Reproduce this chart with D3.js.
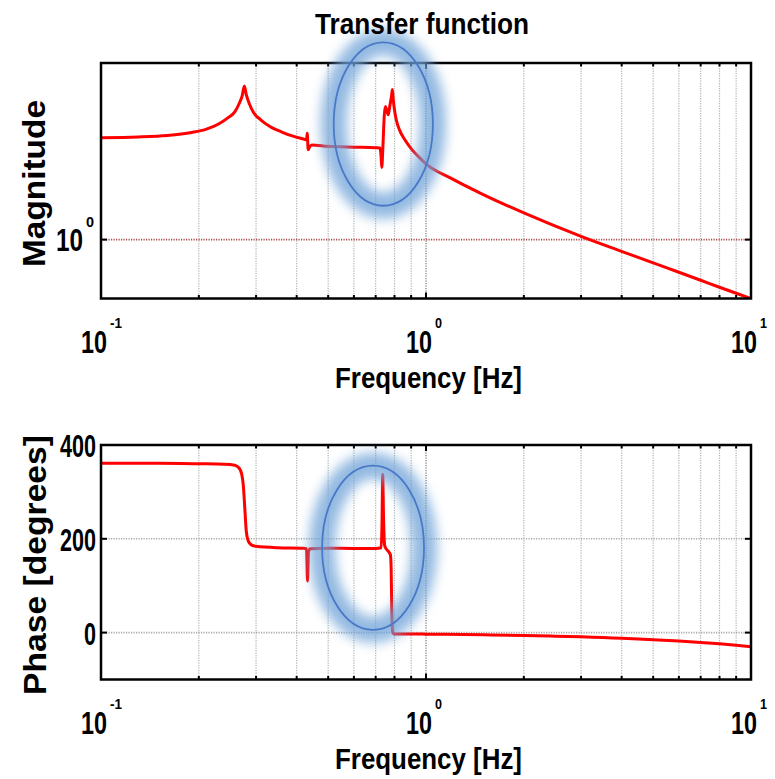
<!DOCTYPE html>
<html>
<head>
<meta charset="utf-8">
<script src="https://cdn.jsdelivr.net/npm/d3@7"></script>
<style>
  body { margin: 0; background: #fff; }
  text { font-family: "Liberation Sans", Arial, Helvetica, sans-serif; font-weight: bold; fill: #000; }
</style>
</head>
<body>
<svg id="chart" width="775" height="779"></svg>
<script>
// magnitude response (linear units)
const freqMag = [0.1, 0.13, 0.16, 0.19, 0.21, 0.23, 0.245, 0.258, 0.266, 0.272, 0.276, 0.28, 0.286, 0.295,
  0.31, 0.33, 0.36, 0.39, 0.42, 0.429, 0.431, 0.434, 0.437, 0.445, 0.5, 0.6, 0.7, 0.722, 0.727, 0.731,
  0.737, 0.744, 0.75, 0.757, 0.765, 0.775, 0.783, 0.788, 0.793, 0.8, 0.81, 0.83, 0.86, 0.9, 0.95, 1.0,
  1.2, 1.5, 2, 3, 4, 5, 6, 7, 8, 9, 10];
const magnitude = [3.32, 3.35, 3.41, 3.53, 3.66, 3.9, 4.18, 4.5, 4.95, 5.45, 6.1, 5.5, 4.95, 4.45,
  4.1, 3.8, 3.55, 3.38, 3.27, 3.24, 3.5, 2.88, 2.95, 3.05, 3.0, 2.97, 2.95, 2.94, 2.7, 2.34,
  3.0, 4.3, 4.8, 4.6, 4.35, 4.9, 5.4, 5.85, 5.2, 4.6, 4.1, 3.62, 3.25, 2.92, 2.65, 2.44,
  2.05, 1.70, 1.37, 1.04, 0.871, 0.76, 0.681, 0.62, 0.571, 0.532, 0.5];

// phase response in degrees
const freqPhase = [0.1, 0.15, 0.2, 0.24, 0.258, 0.266, 0.271, 0.274, 0.277, 0.28, 0.284, 0.29, 0.3,
  0.35, 0.42, 0.429, 0.432, 0.435, 0.44, 0.5, 0.6, 0.7, 0.728, 0.732, 0.736, 0.74, 0.746, 0.755,
  0.766, 0.777, 0.781, 0.785, 0.789, 0.795, 0.8, 0.9, 1, 1.5, 2, 2.5, 3, 3.5, 4, 4.5, 5, 6, 7, 8, 9, 10];
const phaseDeg = [361, 361, 360, 359, 357, 351, 338, 315, 265, 215, 195, 187, 184,
  181, 180, 179, 110, 172, 179, 180, 179.5, 179.5, 181, 230, 337, 250, 186, 178,
  173, 166, 140, 40, 3, -2.5, -2.8, -3, -3.3, -4.7, -6, -7.6, -9, -10.6, -12, -13.5, -15, -18, -21, -24, -27, -30];

const freqDomain = [0.1, 10];
const magDomain = [0.5, 8];
const phaseDomain = [-100, 400];
const decades = [-1, 0, 1];
const magTicks = [1];
const phaseTicks = [0, 200, 400];

// highlighted regions (frequency range, value range)
const magHighlight = { f: [0.52, 1.05], v: [1.49, 10.2] };
const phaseHighlight = { f: [0.479, 0.986], v: [6, 356] };

const svg = d3.select("#chart");
svg.append("rect").attr("width", 775).attr("height", 779).attr("fill", "#fff");

const defs = svg.append("defs");
defs.append("filter").attr("id", "glow")
  .attr("x", "-50%").attr("y", "-50%").attr("width", "200%").attr("height", "200%")
  .append("feGaussianBlur").attr("stdDeviation", 6);

const left = 101, right = 751;
const x = d3.scaleLog().domain(freqDomain).range([left, right]);

function addText(g, str, opts) {
  const t = g.append("text")
    .attr("x", opts.x).attr("y", opts.y)
    .attr("font-size", opts.size)
    .attr("text-anchor", opts.anchor || "middle")
    .text(str);
  if (opts.len) t.attr("textLength", opts.len).attr("lengthAdjust", "spacingAndGlyphs");
  if (opts.transform) t.attr("transform", opts.transform);
  return t;
}

function drawPanel(cfg) {
  const { top, bottom, y, freqs, values, hTicks, hGridColor, id } = cfg;
  const g = svg.append("g");

  defs.append("clipPath").attr("id", "clip-" + id)
    .append("rect").attr("x", left).attr("y", top)
    .attr("width", right - left).attr("height", bottom - top);

  const gridFreqs = x.ticks().filter(f => f > freqDomain[0] * 1.001 && f < freqDomain[1] * 0.999);
  const isDecade = f => Math.abs(Math.log10(f) - Math.round(Math.log10(f))) < 1e-6;

  // vertical grid
  g.selectAll(".vgrid").data(gridFreqs).enter().append("line")
    .attr("x1", d => x(d)).attr("x2", d => x(d))
    .attr("y1", top).attr("y2", bottom)
    .attr("stroke", d => isDecade(d) ? "#7a7a7a" : "#b4b4b4")
    .attr("stroke-width", 1.2)
    .attr("stroke-dasharray", "1.2,1.3");

  // horizontal grid
  const yMin = y.domain()[0], yMax = y.domain()[1];
  g.selectAll(".hgrid").data(hTicks.filter(v => v > yMin && v < yMax)).enter().append("line")
    .attr("x1", left).attr("x2", right)
    .attr("y1", d => y(d)).attr("y2", d => y(d))
    .attr("stroke", hGridColor)
    .attr("stroke-width", 1.6)
    .attr("stroke-dasharray", "1.2,1.3");

  // curve
  const line = d3.line().x(d => x(d[0])).y(d => y(d[1])).curve(d3.curveMonotoneX);
  g.append("path")
    .datum(d3.zip(freqs, values))
    .attr("clip-path", `url(#clip-${id})`)
    .attr("d", line)
    .attr("fill", "none")
    .attr("stroke", "#ff0000")
    .attr("stroke-width", 3)
    .attr("stroke-linejoin", "round");

  // ticks on x (bottom and top, inside)
  x.ticks().forEach(f => {
    const len = isDecade(f) ? 6 : 3.5;
    g.append("line").attr("x1", x(f)).attr("x2", x(f))
      .attr("y1", bottom).attr("y2", bottom - len)
      .attr("stroke", "#000").attr("stroke-width", 2);
    g.append("line").attr("x1", x(f)).attr("x2", x(f))
      .attr("y1", top).attr("y2", top + len)
      .attr("stroke", "#000").attr("stroke-width", 2);
  });

  // ticks on y (left and right, inside)
  hTicks.forEach(v => {
    g.append("line").attr("x1", left).attr("x2", left + 6)
      .attr("y1", y(v)).attr("y2", y(v)).attr("stroke", "#000").attr("stroke-width", 2);
    g.append("line").attr("x1", right).attr("x2", right - 6)
      .attr("y1", y(v)).attr("y2", y(v)).attr("stroke", "#000").attr("stroke-width", 2);
  });

  // frame
  g.append("rect")
    .attr("x", left).attr("y", top)
    .attr("width", right - left).attr("height", bottom - top)
    .attr("fill", "none").attr("stroke", "#000").attr("stroke-width", 2.5);

  // x tick labels 10^d
  decades.forEach(d => {
    const tx = x(Math.pow(10, d));
    addText(g, "10", { x: tx + 6, y: bottom + 54.5, size: 31, anchor: "end", len: 26 });
    addText(g, String(d), { x: tx + 9, y: bottom + 29, size: 15, anchor: "start", len: d < 0 ? 12 : 7 });
  });

  // x axis label
  addText(g, "Frequency [Hz]", { x: 428.5, y: bottom + 89.5, size: 30, len: 187 });

  // highlight ellipse
  const hl = cfg.highlight;
  const cx = (x(hl.f[0]) + x(hl.f[1])) / 2;
  const cy = (y(hl.v[0]) + y(hl.v[1])) / 2;
  const rx = Math.abs(x(hl.f[1]) - x(hl.f[0])) / 2;
  const ry = Math.abs(y(hl.v[1]) - y(hl.v[0])) / 2;
  svg.append("ellipse")
    .attr("cx", cx).attr("cy", cy).attr("rx", rx).attr("ry", ry)
    .attr("fill", "none").attr("stroke", "#6fa3d8").attr("stroke-width", 26)
    .attr("opacity", 0.75).attr("filter", "url(#glow)");
  svg.append("ellipse")
    .attr("cx", cx).attr("cy", cy).attr("rx", rx).attr("ry", ry)
    .attr("fill", "none").attr("stroke", "#4a78c8").attr("stroke-width", 1.8);

  return g;
}

// magnitude panel
const yMag = d3.scaleLog().domain(magDomain).range([298.5, 63]);
const gMag = drawPanel({
  id: "mag", top: 63, bottom: 298.5, y: yMag,
  freqs: freqMag, values: magnitude,
  hTicks: magTicks, hGridColor: "#a84c4c",
  highlight: magHighlight
});
magTicks.forEach(v => {
  addText(gMag, "10", { x: 83, y: yMag(v) + 11.5, size: 31, anchor: "end", len: 27 });
  addText(gMag, String(Math.round(Math.log10(v))), { x: 86, y: yMag(v) - 13, size: 15, anchor: "start", len: 8 });
});
addText(gMag, "Magnitude", { x: 0, y: 0, size: 32, len: 167, transform: "translate(45,183.5) rotate(-90)" });

// phase panel
const yPh = d3.scaleLinear().domain(phaseDomain).range([679.5, 445]);
const gPh = drawPanel({
  id: "ph", top: 445, bottom: 679.5, y: yPh,
  freqs: freqPhase, values: phaseDeg,
  hTicks: phaseTicks, hGridColor: "#a8a8a8",
  highlight: phaseHighlight
});
phaseTicks.forEach(v => {
  const s = String(v);
  addText(gPh, s, { x: 96, y: yPh(v) + 12, size: 32, anchor: "end", len: s.length * 12 });
});
addText(gPh, "Phase [degrees]", { x: 0, y: 0, size: 32, len: 260, transform: "translate(46,565) rotate(-90)" });

// title
addText(svg, "Transfer function", { x: 422, y: 34, size: 29, len: 214 });
</script>
</body>
</html>
